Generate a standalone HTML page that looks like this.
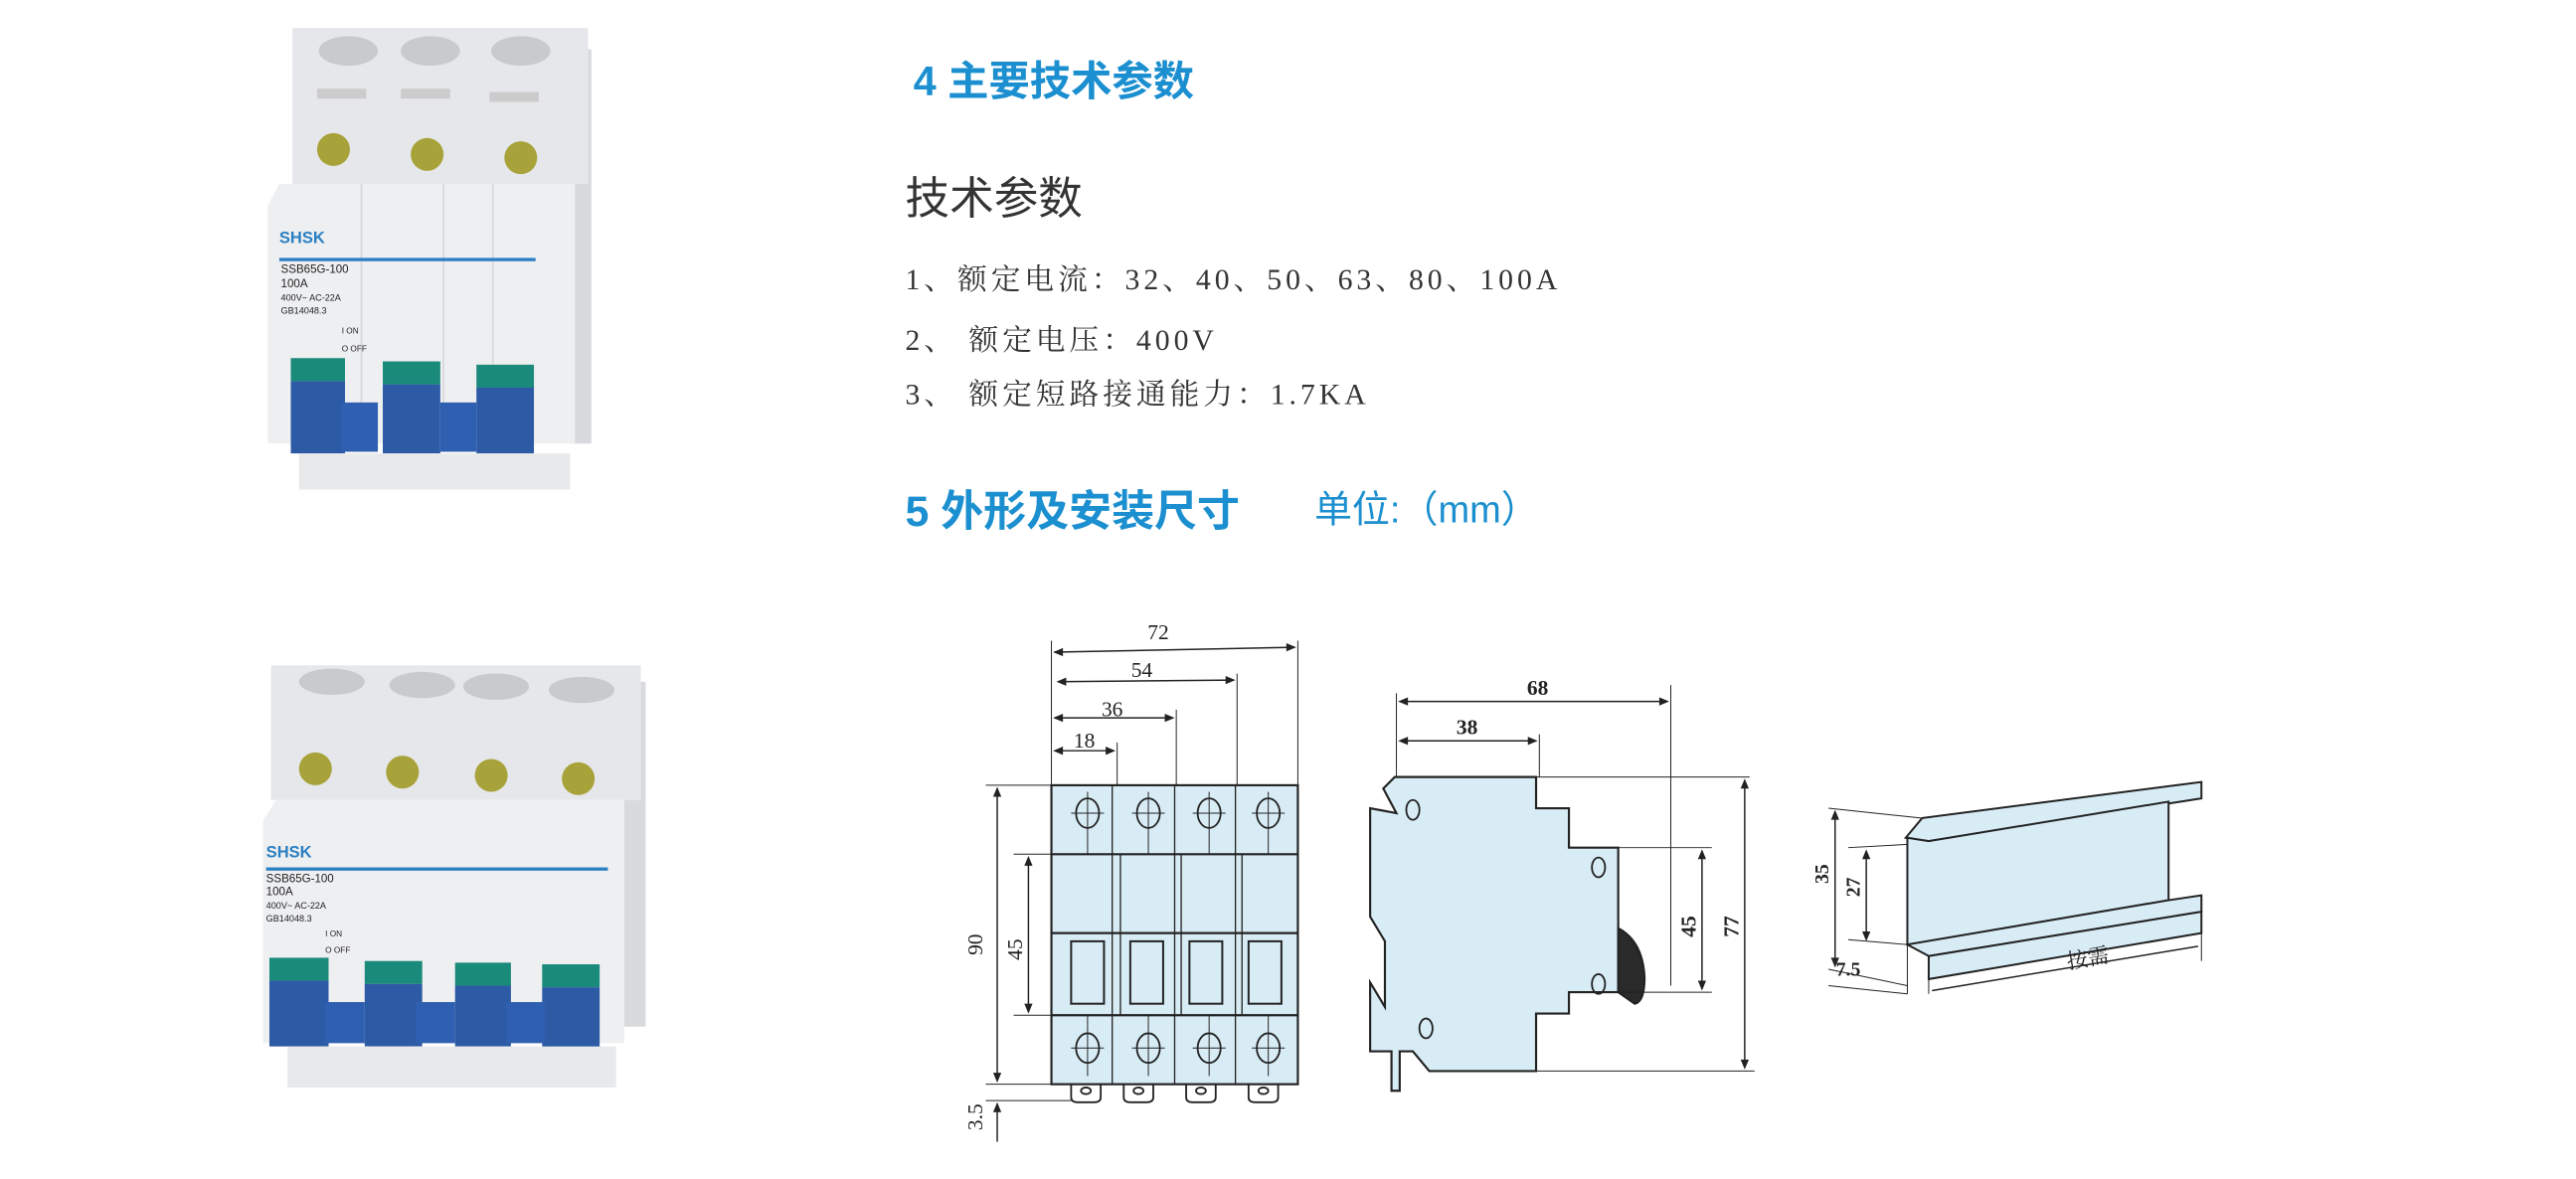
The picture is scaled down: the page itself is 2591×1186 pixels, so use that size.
<!DOCTYPE html>
<html><head><meta charset="utf-8"><style>
html,body{margin:0;padding:0;background:#fff;width:2591px;height:1186px;overflow:hidden}
svg{display:block}
</style></head><body>
<svg width="2591" height="1186" viewBox="0 0 1568 717.7" preserveAspectRatio="none" xmlns="http://www.w3.org/2000/svg" font-family="Liberation Serif, 'Noto Serif CJK SC', serif">
<rect width="1568" height="718" fill="#fff"/>
<!-- top photo -->
<g>
<rect x="347" y="30" width="13" height="240" fill="#d8dadd"/>
<rect x="178" y="17" width="180" height="95" fill="#e6e7ea"/>
<ellipse cx="212" cy="31" rx="18" ry="9" fill="#c9cacd"/><ellipse cx="262" cy="31" rx="18" ry="9" fill="#c9cacd"/><ellipse cx="317" cy="31" rx="18" ry="9" fill="#c9cacd"/>
<rect x="193" y="54" width="30" height="6" fill="#ccc"/><rect x="244" y="54" width="30" height="6" fill="#ccc"/><rect x="298" y="56" width="30" height="6" fill="#ccc"/>
<circle cx="203" cy="91" r="10" fill="#a8a23a"/><circle cx="260" cy="94" r="10" fill="#a8a23a"/><circle cx="317" cy="96" r="10" fill="#a8a23a"/>
<path d="M170 112 L350 112 L350 270 L163 270 L163 125 Z" fill="#eeeff1"/>
<line x1="220" y1="112" x2="220" y2="270" stroke="#d6d7da"/><line x1="270" y1="112" x2="270" y2="270" stroke="#d6d7da"/><line x1="300" y1="112" x2="300" y2="270" stroke="#d6d7da"/>
<text x="170" y="148" font-family="Liberation Sans,sans-serif" font-weight="bold" font-size="10" fill="#2a7fc2">SHSK</text>
<rect x="170" y="157" width="156" height="2" fill="#2a7fc2"/>
<g font-family="Liberation Sans,sans-serif" fill="#222"><text x="171" y="166" font-size="7">SSB65G-100</text><text x="171" y="175" font-size="7">100A</text><text x="171" y="183" font-size="5.5">400V~   AC-22A</text><text x="171" y="191" font-size="5.5">GB14048.3</text><text x="208" y="203" font-size="5">I ON</text><text x="208" y="214" font-size="5">O OFF</text></g>
<rect x="177" y="218" width="33" height="14" fill="#1a8a7a"/><rect x="177" y="232" width="33" height="44" fill="#2d5aa5"/>
<rect x="233" y="220" width="35" height="14" fill="#1a8a7a"/><rect x="233" y="234" width="35" height="42" fill="#2d5aa5"/>
<rect x="290" y="222" width="35" height="14" fill="#1a8a7a"/><rect x="290" y="236" width="35" height="40" fill="#2d5aa5"/>
<rect x="208" y="245" width="22" height="30" fill="#2f5fb0"/><rect x="268" y="245" width="22" height="30" fill="#2f5fb0"/>
<rect x="182" y="276" width="165" height="22" fill="#e8e9eb"/>
</g>
<!-- bottom photo -->
<g>
<rect x="380" y="415" width="13" height="210" fill="#d8dadd"/>
<rect x="165" y="405" width="225" height="82" fill="#e6e7ea"/>
<ellipse cx="202" cy="415" rx="20" ry="8" fill="#c9cacd"/><ellipse cx="257" cy="417" rx="20" ry="8" fill="#c9cacd"/><ellipse cx="302" cy="418" rx="20" ry="8" fill="#c9cacd"/><ellipse cx="354" cy="420" rx="20" ry="8" fill="#c9cacd"/>
<circle cx="192" cy="468" r="10" fill="#a8a23a"/><circle cx="245" cy="470" r="10" fill="#a8a23a"/><circle cx="299" cy="472" r="10" fill="#a8a23a"/><circle cx="352" cy="474" r="10" fill="#a8a23a"/>
<path d="M168 487 L380 487 L380 635 L160 635 L160 500 Z" fill="#eeeff1"/>
<text x="162" y="522" font-family="Liberation Sans,sans-serif" font-weight="bold" font-size="10" fill="#2a7fc2">SHSK</text>
<rect x="162" y="528" width="208" height="2" fill="#2a7fc2"/>
<g font-family="Liberation Sans,sans-serif" fill="#222"><text x="162" y="537" font-size="7">SSB65G-100</text><text x="162" y="545" font-size="7">100A</text><text x="162" y="553" font-size="5.5">400V~   AC-22A</text><text x="162" y="561" font-size="5.5">GB14048.3</text><text x="198" y="570" font-size="5">I ON</text><text x="198" y="580" font-size="5">O OFF</text></g>
<rect x="164" y="583" width="36" height="14" fill="#1a8a7a"/><rect x="164" y="597" width="36" height="40" fill="#2d5aa5"/>
<rect x="222" y="585" width="35" height="14" fill="#1a8a7a"/><rect x="222" y="599" width="35" height="38" fill="#2d5aa5"/>
<rect x="277" y="586" width="34" height="14" fill="#1a8a7a"/><rect x="277" y="600" width="34" height="37" fill="#2d5aa5"/>
<rect x="330" y="587" width="35" height="14" fill="#1a8a7a"/><rect x="330" y="601" width="35" height="37" fill="#2d5aa5"/>
<rect x="198" y="610" width="24" height="25" fill="#2f5fb0"/><rect x="253" y="610" width="24" height="25" fill="#2f5fb0"/><rect x="308" y="610" width="24" height="25" fill="#2f5fb0"/>
<rect x="175" y="637" width="200" height="25" fill="#e8e9eb"/>
</g>
<!-- text -->
<g font-family="Liberation Sans,'Noto Sans CJK SC',sans-serif" fill="#1b8fcf" font-weight="bold">
<text x="556" y="58" font-size="25">4 主要技术参数</text>
<text x="551" y="320" font-size="26">5 外形及安装尺寸</text>
</g>
<text x="800" y="318" font-family="Liberation Sans,'Noto Sans CJK SC',sans-serif" font-size="23" fill="#1b8fcf">单位:（mm）</text>
<text x="551" y="130" font-family="Liberation Sans,'Noto Sans CJK SC',sans-serif" font-size="27" fill="#333">技术参数</text>
<g font-size="18" fill="#333" letter-spacing="2.4">
<text x="551" y="176">1、额定电流：32、40、50、63、80、100A</text>
<text x="551" y="213">2、 额定电压：400V</text>
<text x="551" y="246">3、 额定短路接通能力：1.7KA</text>
</g>
<!-- front view -->
<g stroke="#222" fill="none" stroke-width="0.8">
<rect x="640" y="478" width="150" height="182" fill="#d8ecf5" stroke-width="1.3"/>
<line x1="640" y1="520" x2="790" y2="520" stroke-width="1.3"/><line x1="640" y1="568" x2="790" y2="568" stroke-width="1.3"/><line x1="640" y1="618" x2="790" y2="618" stroke-width="1.3"/>
<line x1="677" y1="478" x2="677" y2="660"/><line x1="715" y1="478" x2="715" y2="660"/><line x1="752" y1="478" x2="752" y2="660"/>
<line x1="682" y1="520" x2="682" y2="618"/><line x1="719" y1="520" x2="719" y2="618"/><line x1="756" y1="520" x2="756" y2="618"/>
<g stroke-width="1.2"><rect x="652" y="573" width="20" height="38"/><rect x="688" y="573" width="20" height="38"/><rect x="724" y="573" width="20" height="38"/><rect x="760" y="573" width="20" height="38"/></g>
<g stroke-width="1.1"><ellipse cx="662" cy="495" rx="7" ry="9"/><ellipse cx="699" cy="495" rx="7" ry="9"/><ellipse cx="736" cy="495" rx="7" ry="9"/><ellipse cx="772" cy="495" rx="7" ry="9"/>
<ellipse cx="662" cy="638" rx="7" ry="9"/><ellipse cx="699" cy="638" rx="7" ry="9"/><ellipse cx="736" cy="638" rx="7" ry="9"/><ellipse cx="772" cy="638" rx="7" ry="9"/></g>
<g stroke-width="0.6"><line x1="652" y1="495" x2="672" y2="495"/><line x1="689" y1="495" x2="709" y2="495"/><line x1="726" y1="495" x2="746" y2="495"/><line x1="762" y1="495" x2="782" y2="495"/>
<line x1="652" y1="638" x2="672" y2="638"/><line x1="689" y1="638" x2="709" y2="638"/><line x1="726" y1="638" x2="746" y2="638"/><line x1="762" y1="638" x2="782" y2="638"/>
<line x1="662" y1="482" x2="662" y2="520"/><line x1="699" y1="482" x2="699" y2="520"/><line x1="736" y1="482" x2="736" y2="520"/><line x1="772" y1="482" x2="772" y2="520"/>
<line x1="662" y1="618" x2="662" y2="655"/><line x1="699" y1="618" x2="699" y2="655"/><line x1="736" y1="618" x2="736" y2="655"/><line x1="772" y1="618" x2="772" y2="655"/></g>
<g stroke-width="1.1"><path d="M652 660 v8 q0 3 4 3 h10 q4 0 4 -3 v-8"/><path d="M684 660 v8 q0 3 4 3 h10 q4 0 4 -3 v-8"/><path d="M722 660 v8 q0 3 4 3 h10 q4 0 4 -3 v-8"/><path d="M760 660 v8 q0 3 4 3 h10 q4 0 4 -3 v-8"/>
<ellipse cx="661" cy="664" rx="3" ry="2"/><ellipse cx="693" cy="664" rx="3" ry="2"/><ellipse cx="731" cy="664" rx="3" ry="2"/><ellipse cx="769" cy="664" rx="3" ry="2"/></g>
<g stroke-width="0.6"><line x1="640" y1="390" x2="640" y2="478"/><line x1="790" y1="390" x2="790" y2="478"/><line x1="753" y1="410" x2="753" y2="478"/><line x1="716" y1="432" x2="716" y2="478"/><line x1="680" y1="452" x2="680" y2="478"/>
<line x1="600" y1="478" x2="640" y2="478"/><line x1="600" y1="660" x2="640" y2="660"/><line x1="617" y1="520" x2="640" y2="520"/><line x1="617" y1="618" x2="640" y2="618"/><line x1="600" y1="670" x2="652" y2="670"/></g>
<g stroke-width="0.9"><line x1="642" y1="397" x2="788" y2="394"/><line x1="644" y1="415" x2="751" y2="414"/><line x1="642" y1="437" x2="714" y2="437"/><line x1="642" y1="457" x2="678" y2="457"/>
<line x1="607" y1="480" x2="607" y2="658"/><line x1="626" y1="522" x2="626" y2="616"/><line x1="607" y1="672" x2="607" y2="695"/></g>
</g>
<g fill="#222"><path d="M641 397 l6 -2.5 v5z"/><path d="M789 394 l-6 -2.5 v5z"/><path d="M643 415 l6 -2.5 v5z"/><path d="M752 414 l-6 -2.5 v5z"/><path d="M641 437 l6 -2.5 v5z"/><path d="M715 437 l-6 -2.5 v5z"/><path d="M641 457 l6 -2.5 v5z"/><path d="M679 457 l-6 -2.5 v5z"/>
<path d="M607 479 l-2.5 6 h5z"/><path d="M607 659 l-2.5 -6 h5z"/><path d="M626 521 l-2.5 6 h5z"/><path d="M626 617 l-2.5 -6 h5z"/><path d="M607 671 l-2.5 6 h5z"/></g>
<g font-size="13" fill="#222" text-anchor="middle"><text x="705" y="389">72</text><text x="695" y="412">54</text><text x="677" y="436">36</text><text x="660" y="455">18</text>
<text transform="translate(598 575) rotate(-90)">90</text><text transform="translate(622 578) rotate(-90)">45</text><text transform="translate(598 680) rotate(-90)">3.5</text></g>
<!-- side view -->
<g stroke="#222" fill="#d8ecf5" stroke-width="1.3">
<path d="M849 473 L935 473 L935 492 L955 492 L955 516 L985 516 L985 604 L955 604 L955 617 L935 617 L935 652 L870 652 L860 640 L852 640 L852 664 L847 664 L847 640 L834 640 L834 598 L843 613 L843 573 L834 558 L834 492 L850 495 L842 480 Z"/>
<path d="M985 565 q15 8 16 30 q0 15 -6 16 L985 604 Z" fill="#2a2a2a"/>
</g>
<g stroke="#222" fill="none" stroke-width="1.1"><ellipse cx="860" cy="493" rx="4" ry="6"/><ellipse cx="973" cy="528" rx="4" ry="6"/><ellipse cx="973" cy="599" rx="4" ry="6"/><ellipse cx="868" cy="626" rx="4" ry="6"/></g>
<g stroke="#222" stroke-width="0.6"><line x1="850" y1="422" x2="850" y2="473"/><line x1="1017" y1="417" x2="1017" y2="600"/><line x1="937" y1="447" x2="937" y2="473"/>
<line x1="935" y1="473" x2="1065" y2="473"/><line x1="985" y1="516" x2="1042" y2="516"/><line x1="985" y1="604" x2="1042" y2="604"/><line x1="935" y1="652" x2="1068" y2="652"/></g>
<g stroke="#222" stroke-width="0.9"><line x1="852" y1="427" x2="1015" y2="427"/><line x1="852" y1="451" x2="935" y2="451"/><line x1="1036" y1="518" x2="1036" y2="602"/><line x1="1062" y1="475" x2="1062" y2="650"/></g>
<g fill="#222"><path d="M851 427 l6 -2.5 v5z"/><path d="M1016 427 l-6 -2.5 v5z"/><path d="M851 451 l6 -2.5 v5z"/><path d="M936 451 l-6 -2.5 v5z"/><path d="M1036 517 l-2.5 6 h5z"/><path d="M1036 603 l-2.5 -6 h5z"/><path d="M1062 474 l-2.5 6 h5z"/><path d="M1062 651 l-2.5 -6 h5z"/></g>
<g font-size="13" fill="#222" text-anchor="middle" font-weight="bold"><text x="936" y="423">68</text><text x="893" y="447">38</text><text transform="translate(1032 564) rotate(-90)">45</text><text transform="translate(1058 564) rotate(-90)">77</text></g>
<!-- DIN rail -->
<g stroke="#222" stroke-width="1.2" fill="#d8ecf5">
<path d="M1160 510 L1170 498 L1340 476 L1340 486 L1174 512 Z"/>
<path d="M1161 510 L1174 512 L1320 488 L1320 548 L1161 575 Z"/>
<path d="M1161 575 L1320 548 L1340 545 L1340 555 L1174 582 Z"/>
<path d="M1174 582 L1340 555 L1340 568 L1174 596 Z"/>
</g>
<g stroke="#222" stroke-width="0.6"><line x1="1113" y1="492" x2="1170" y2="498"/><line x1="1125" y1="516" x2="1161" y2="514"/><line x1="1125" y1="572" x2="1161" y2="575"/><line x1="1113" y1="590" x2="1161" y2="600"/>
<line x1="1161" y1="575" x2="1161" y2="605"/><line x1="1174" y1="596" x2="1174" y2="605"/><line x1="1340" y1="568" x2="1340" y2="585"/><line x1="1113" y1="600" x2="1161" y2="605"/></g>
<g stroke="#222" stroke-width="0.9"><line x1="1117" y1="494" x2="1117" y2="588"/><line x1="1136" y1="518" x2="1136" y2="572"/><line x1="1176" y1="603" x2="1338" y2="576"/></g>
<g fill="#222"><path d="M1117 493 l-2.5 6 h5z"/><path d="M1117 589 l-2.5 -6 h5z"/><path d="M1136 517 l-2.5 6 h5z"/><path d="M1136 573 l-2.5 -6 h5z"/></g>
<g font-size="12" fill="#222" font-weight="bold" text-anchor="middle"><text transform="translate(1113 532) rotate(-90)">35</text><text transform="translate(1132 540) rotate(-90)">27</text><text x="1125" y="594">7.5</text></g>
<text x="1258" y="590" font-size="13" fill="#222" transform="rotate(-10 1258 585)" font-family="'Noto Serif CJK SC',serif">按需</text>
</svg>
</body></html>
